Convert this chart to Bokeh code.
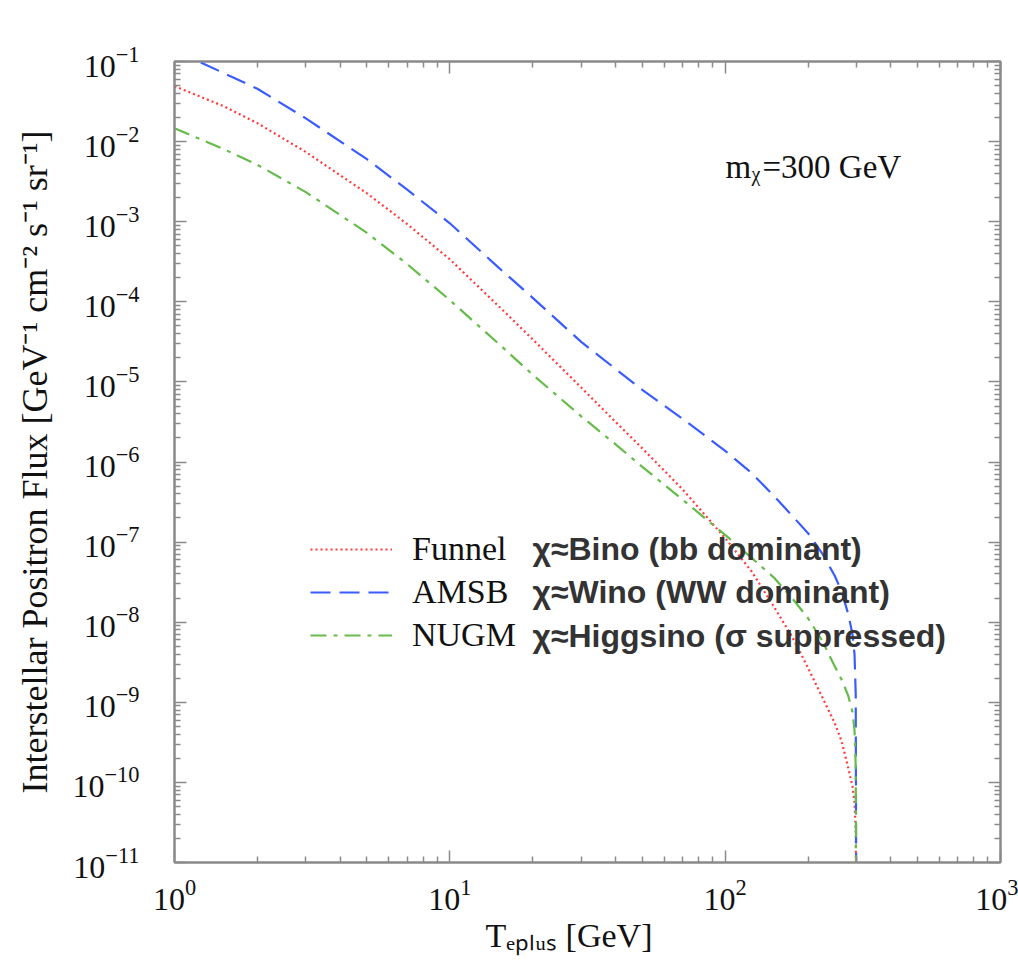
from bokeh.plotting import figure
from bokeh.models import LogAxis, Label, Legend, LegendItem, FixedTicker, Title
from bokeh.embed import file_html
from bokeh.resources import INLINE

# Positron kinetic energy [GeV]
energy = [1, 1.5, 2, 3, 5, 7, 10, 15, 20, 30, 40, 50, 70, 100, 125, 150, 175, 200, 225, 250,
          265, 280, 290, 295, 298, 300]

# Interstellar positron flux [GeV^-1 cm^-2 s^-1 sr^-1]
funnel = [4.92e-2, 2.79e-2, 1.70e-2, 7.41e-3, 2.26e-3, 9.33e-4, 3.39e-4, 8.91e-5, 3.39e-5,
          8.51e-6, 3.16e-6, 1.48e-6, 4.57e-7, 1.12e-7, 4.27e-8, 1.58e-8, 6.61e-9, 2.69e-9,
          1.17e-9, 5.50e-10, 3.24e-10, 1.51e-10, 8.91e-11, 5.62e-11, 2.51e-11, 1e-13]
amsb = [1.38e-1, 7.24e-2, 4.57e-2, 1.95e-2, 6.03e-3, 2.51e-3, 9.55e-4, 2.69e-4, 1.12e-4,
        3.16e-5, 1.45e-5, 7.94e-6, 3.47e-6, 1.38e-6, 7.24e-7, 3.80e-7, 2.14e-7, 1.29e-7,
        7.24e-8, 3.80e-8, 2.40e-8, 1.26e-8, 7.08e-9, 3.98e-9, 1.26e-9, 1e-13]
nugm = [1.47e-2, 8.13e-3, 5.13e-3, 2.34e-3, 7.24e-4, 2.95e-4, 1.05e-4, 3.02e-5, 1.23e-5,
        3.72e-6, 1.66e-6, 8.71e-7, 3.39e-7, 1.23e-7, 6.31e-8, 3.63e-8, 2.00e-8, 1.12e-8,
        5.89e-9, 2.82e-9, 1.91e-9, 1.20e-9, 7.59e-10, 4.47e-10, 1.58e-10, 1e-13]

series_names = ["Funnel", "AMSB", "NUGM"]
series_notes = ["χ≈Bino (bb dominant)", "χ≈Wino (WW dominant)", "χ≈Higgsino (σ suppressed)"]

x_major = [1, 10, 100, 1000]
y_major = [1e-11, 1e-10, 1e-9, 1e-8, 1e-7, 1e-6, 1e-5, 1e-4, 1e-3, 1e-2, 1e-1]

SERIF = "Liberation Serif"
SANS = "Liberation Sans"
AX = "#8a8a8a"

x_minor = [m * d for d in x_major[:-1] for m in range(2, 10)]
y_minor = [m * d for d in y_major[:-1] for m in range(2, 10)]

p = figure(x_axis_type="log", y_axis_type="log",
           x_range=(1, 1000), y_range=(1e-11, 1e-1),
           frame_width=826, frame_height=801,
           min_border_left=174, min_border_right=18, min_border_top=61, min_border_bottom=97,
           output_backend="svg", toolbar_location=None, background_fill_color="white")
p.grid.visible = False
p.outline_line_color = AX
p.outline_line_width = 2

r_f = p.line(energy, funnel, line_color="#ff3b3b", line_width=2.2, line_dash="2 3")
r_a = p.line(energy, amsb, line_color="#3a5cff", line_width=2.2, line_dash="20 9")
r_n = p.line(energy, nugm, line_color="#66bb4a", line_width=2.2, line_dash="16 7 4 7")

def style(ax, major, minor, labels=True):
    ax.ticker = FixedTicker(ticks=major, minor_ticks=minor)
    ax.axis_line_color = AX
    ax.axis_line_width = 2
    ax.major_tick_line_color = AX
    ax.minor_tick_line_color = AX
    ax.major_tick_line_width = 1.5
    ax.minor_tick_line_width = 1.5
    ax.major_tick_in = 12
    ax.major_tick_out = 0
    ax.minor_tick_in = 6
    ax.minor_tick_out = 0
    if labels:
        ax.major_label_text_font = SERIF
        ax.major_label_text_font_size = "32px"
        ax.major_label_text_color = "#111111"
    else:
        ax.major_label_text_font_size = "0px"
        ax.major_label_text_alpha = 0
        ax.major_label_standoff = 0

style(p.xaxis[0], x_major, x_minor)
style(p.yaxis[0], y_major, y_minor)
p.xaxis[0].major_label_standoff = 17
p.yaxis[0].major_label_standoff = 35

p.yaxis[0].axis_label = "Interstellar Positron Flux [GeV⁻¹ cm⁻² s⁻¹ sr⁻¹]"
p.yaxis[0].axis_label_text_font = SERIF
p.yaxis[0].axis_label_text_font_style = "normal"
p.yaxis[0].axis_label_text_font_size = "36px"
p.yaxis[0].axis_label_text_color = "#111111"
p.yaxis[0].axis_label_standoff = 14

top = LogAxis()
style(top, x_major, x_minor, labels=False)
p.add_layout(top, "above")
right = LogAxis()
style(right, y_major, y_minor, labels=False)
p.add_layout(right, "right")

p.add_layout(Title(text="Tₑₚₗᵤₛ [GeV]", align="left", offset=311, standoff=4,
                   text_font=SERIF, text_font_size="34px", text_font_style="normal",
                   text_color="#111111"), "below")

legend = Legend(items=[LegendItem(label=series_names[0], renderers=[r_f]),
                       LegendItem(label=series_names[1], renderers=[r_a]),
                       LegendItem(label=series_names[2], renderers=[r_n])],
                location=(136, 206), glyph_width=82, glyph_height=42, label_height=42,
                label_standoff=20, spacing=1, padding=0, margin=0,
                label_text_font=SERIF, label_text_font_size="34px", label_text_color="#111111",
                border_line_alpha=0, background_fill_alpha=0)
p.add_layout(legend, "center")

note_y = [314, 270.5, 227]
for note, yy in zip(series_notes, note_y):
    p.add_layout(Label(x=358, y=yy, x_units="screen", y_units="screen", text=note,
                       text_font=SANS, text_font_style="bold", text_font_size="32px",
                       text_color="#333333", text_baseline="middle"))

# m_chi = 300 GeV annotation
p.add_layout(Label(x=551, y=696, x_units="screen", y_units="screen", text="m",
                   text_font=SERIF, text_font_size="33px", text_color="#111111",
                   text_baseline="alphabetic"))
p.add_layout(Label(x=577, y=689, x_units="screen", y_units="screen", text="χ",
                   text_font=SERIF, text_font_size="20px", text_color="#111111",
                   text_baseline="alphabetic"))
p.add_layout(Label(x=588, y=696, x_units="screen", y_units="screen", text="=300 GeV",
                   text_font=SERIF, text_font_size="33px", text_color="#111111",
                   text_baseline="alphabetic"))

open("out.html", "w").write(file_html(p, INLINE))
